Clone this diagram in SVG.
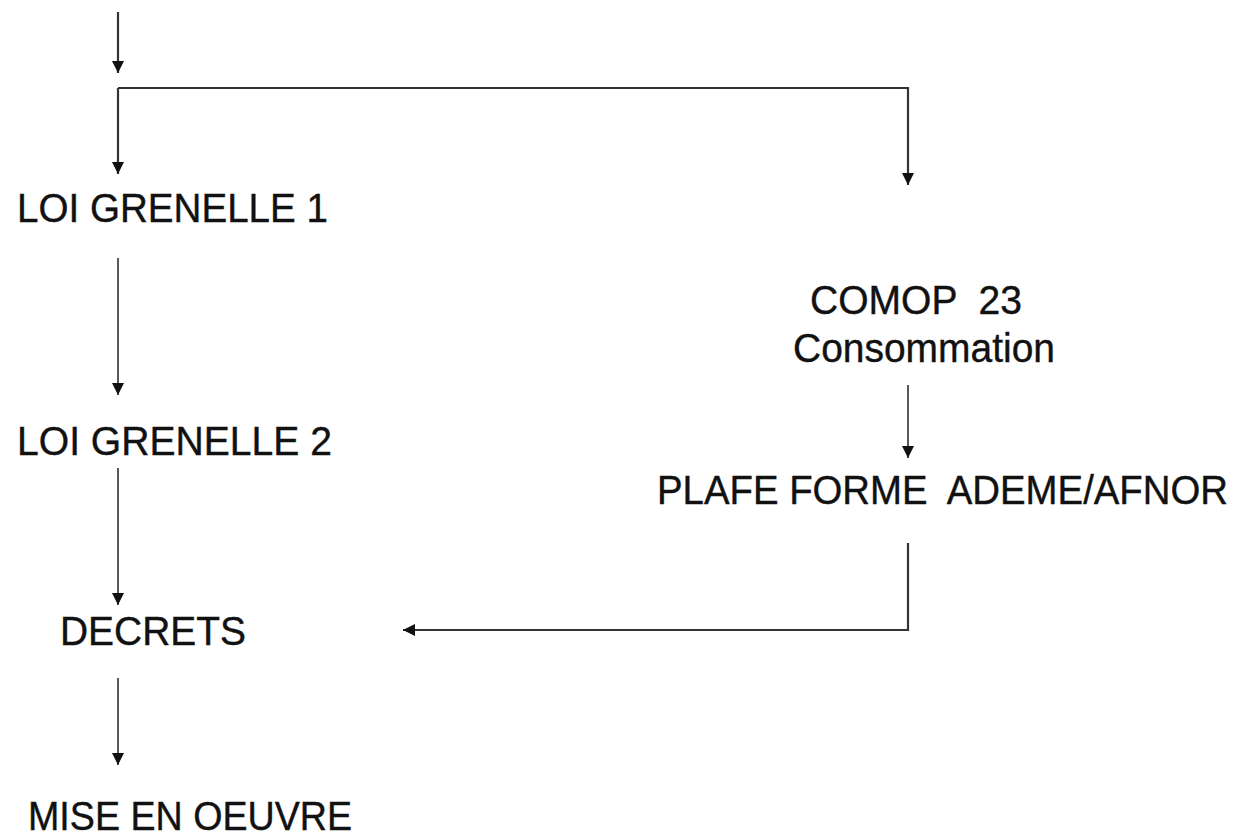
<svg xmlns="http://www.w3.org/2000/svg" width="1249" height="836" viewBox="0 0 1249 836">
<style>
text{font-family:"Liberation Sans",Arial,sans-serif;font-size:41px;fill:#111;stroke:#111;stroke-width:0.4;}
.c{fill:none;stroke:#333;stroke-width:2.2;}
.t{fill:none;stroke:#222;stroke-width:1.5;}
</style>
<defs>
<marker id="ah" viewBox="0 0 10 10" refX="10" refY="5" markerWidth="12" markerHeight="12" markerUnits="userSpaceOnUse" orient="auto">
<path d="M0,0 L10,5 L0,10 Z" fill="#111"/>
</marker>
</defs>
<rect width="1249" height="836" fill="#fff"/>
<g id="connectors">
<line class="c" x1="118" y1="12" x2="118" y2="73" marker-end="url(#ah)"/>
<path class="c" d="M118,88 V174" marker-end="url(#ah)"/>
<path class="c" d="M118,88 H908 V185" marker-end="url(#ah)"/>
<line class="t" x1="118" y1="258" x2="118" y2="395" marker-end="url(#ah)"/>
<line class="t" x1="118" y1="468" x2="118" y2="605" marker-end="url(#ah)"/>
<line class="t" x1="118" y1="678" x2="118" y2="765" marker-end="url(#ah)"/>
<line class="t" x1="908" y1="385" x2="908" y2="458" marker-end="url(#ah)"/>
<path class="c" d="M908,543 V630 H403" marker-end="url(#ah)"/>
</g>
<g id="loi1"><text x="17" y="222" textLength="311" lengthAdjust="spacingAndGlyphs">LOI GRENELLE 1</text></g>
<g id="loi2"><text x="17" y="455" textLength="315" lengthAdjust="spacingAndGlyphs">LOI GRENELLE 2</text></g>
<g id="decrets"><text x="60" y="645" textLength="186" lengthAdjust="spacingAndGlyphs">DECRETS</text></g>
<g id="mise"><text x="28" y="830" textLength="324" lengthAdjust="spacingAndGlyphs">MISE EN OEUVRE</text></g>
<g id="comop"><text x="810" y="314" font-size="35" xml:space="preserve" textLength="212" lengthAdjust="spacingAndGlyphs">COMOP  23</text><text x="793" y="362" font-size="35" textLength="262" lengthAdjust="spacingAndGlyphs">Consommation</text></g>
<g id="plateforme"><text x="657" y="504" xml:space="preserve" textLength="571" lengthAdjust="spacingAndGlyphs">PLAFE FORME  ADEME/AFNOR</text></g>
</svg>
